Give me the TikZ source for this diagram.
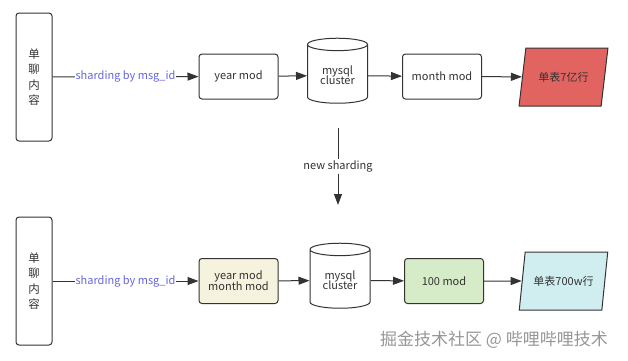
\documentclass[tikz,border=0pt]{standalone}
\usepackage{fontspec}
\setmainfont{Noto Sans CJK SC}
\usetikzlibrary{positioning,arrows.meta,shapes.geometric}
\definecolor{linegray}{RGB}{51,51,51}
\definecolor{labelblue}{RGB}{102,102,222}
\definecolor{tablered}{RGB}{226,100,96}
\definecolor{beige}{RGB}{245,243,222}
\definecolor{mintgreen}{RGB}{214,236,200}
\definecolor{paleaqua}{RGB}{208,238,240}
\definecolor{markgray}{RGB}{150,150,150}

\tikzset{
  srcbox/.style={draw=linegray, line width=1pt, rounded corners=3pt, minimum width=36pt, minimum height=128pt, align=center, font=\fontsize{11.5}{15.5}\selectfont},
  modbox/.style={draw=linegray, line width=1pt, rounded corners=3pt, minimum width=79pt, minimum height=45pt, align=center},
  dbnode/.style={draw=linegray, line width=1pt, cylinder, shape border rotate=90, aspect=0.3, minimum width=60pt, minimum height=65pt, align=center, fill=white},
  tblnode/.style={draw=linegray, line width=1pt, trapezium, trapezium left angle=73, trapezium right angle=107, trapezium stretches=true, minimum width=89pt, minimum height=58pt},
  flow/.style={draw=linegray, line width=1pt, -{Triangle[length=11pt,width=8pt]}},
}

\begin{document}
\begin{tikzpicture}[x=1pt, y=-1pt, font=\fontsize{11}{13}\selectfont, text=linegray]
\useasboundingbox (0,0) rectangle (628,360);

% old layout
\node[srcbox] (src1) at (34,77) {单\\聊\\内\\容};
\node[modbox] (ymod1) at (238.5,76.5) {year mod};
\node[dbnode] (db1) at (337.5,75.5) {mysql\\[-3pt]cluster};
\node[modbox] (mmod1) at (442,76.5) {month mod};
\node[tblnode, fill=tablered] (tbl1) at (563.5,77) {单表7亿行};

\draw[flow] (src1) -- node[fill=white, text=labelblue, inner sep=1pt] {sharding by msg\_id} (ymod1);
\draw[flow] (ymod1) -- (db1);
\draw[flow] (db1) -- (mmod1);
\draw[flow] (mmod1) -- (tbl1);

% migration
\coordinate (mig1) at (338,128);
\coordinate (mig2) at (338,205);
\draw[flow] (mig1) -- node[fill=white, inner sep=2pt] {new sharding} (mig2);

% new layout
\node[srcbox] (src2) at (34,281) {单\\聊\\内\\容};
\node[modbox, fill=beige] (ymod2) at (238.5,281) {year mod\\[-2pt]month mod};
\node[dbnode] (db2) at (340,280.5) {mysql\\[-3pt]cluster};
\node[modbox, fill=mintgreen] (hmod2) at (444,281) {100 mod};
\node[tblnode, fill=paleaqua] (tbl2) at (563.5,281) {单表700w行};

\draw[flow] (src2) -- node[fill=white, text=labelblue, inner sep=1pt] {sharding by msg\_id} (ymod2);
\draw[flow] (ymod2) -- (db2);
\draw[flow] (db2) -- (hmod2);
\draw[flow] (hmod2) -- (tbl2);

\node[text=markgray, font=\fontsize{17}{20}\selectfont] (mark) at (494,340) {掘金技术社区 @ 哔哩哔哩技术};
\end{tikzpicture}
\end{document}
